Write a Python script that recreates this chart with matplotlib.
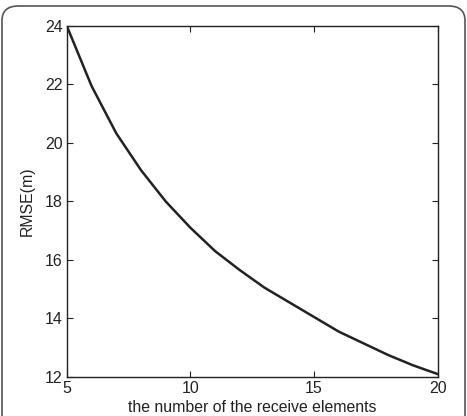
import matplotlib
matplotlib.use("Agg")
import matplotlib.pyplot as plt
from matplotlib.patches import FancyBboxPatch

elements = [5, 6, 7, 8, 9, 10, 11, 12, 13, 14, 15, 16, 17, 18, 19, 20]
rmse = [24.0, 21.95, 20.33, 19.07, 18.0, 17.1, 16.3, 15.65, 15.05, 14.55, 14.05, 13.55, 13.15, 12.75, 12.4, 12.1]
xticks = [5, 10, 15, 20]
yticks = [12, 14, 16, 18, 20, 22, 24]

plt.rcParams['font.family'] = ['Liberation Sans', 'DejaVu Sans']

W, H = 467, 416
fig = plt.figure(figsize=(W / 100, H / 100), dpi=100)

# rounded frame around the figure
frame = FancyBboxPatch((2 / W, -0.2), (W - 4) / W, (H - 4) / H + 0.2 - 2 / H,
                       boxstyle="round,pad=0,rounding_size=0.035",
                       transform=fig.transFigure, fill=False,
                       edgecolor='#555555', linewidth=1.2, clip_on=False)
fig.patches.append(frame)

l, r, t, b = 66.7, 437.7, 25.7, 377
ax = fig.add_axes([l / W, 1 - b / H, (r - l) / W, (b - t) / H])
ax.plot(elements, rmse, color='#222222', linewidth=1.8)
ax.set_xlim(5, 20)
ax.set_ylim(12, 24)
ax.set_xticks(xticks)
ax.set_yticks(yticks)
ax.tick_params(direction='in', top=True, right=True, length=4, width=0.8,
               labelsize=11.5, colors='#222222', pad=3)
for s in ax.spines.values():
    s.set_linewidth(1.0)
    s.set_color('#222222')
ax.set_xlabel('the number of the receive elements', fontsize=11.4, color='#222222', labelpad=3)
ax.set_ylabel('RMSE(m)', fontsize=11.4, color='#222222', labelpad=7)

fig.savefig('out.png', dpi=100)
